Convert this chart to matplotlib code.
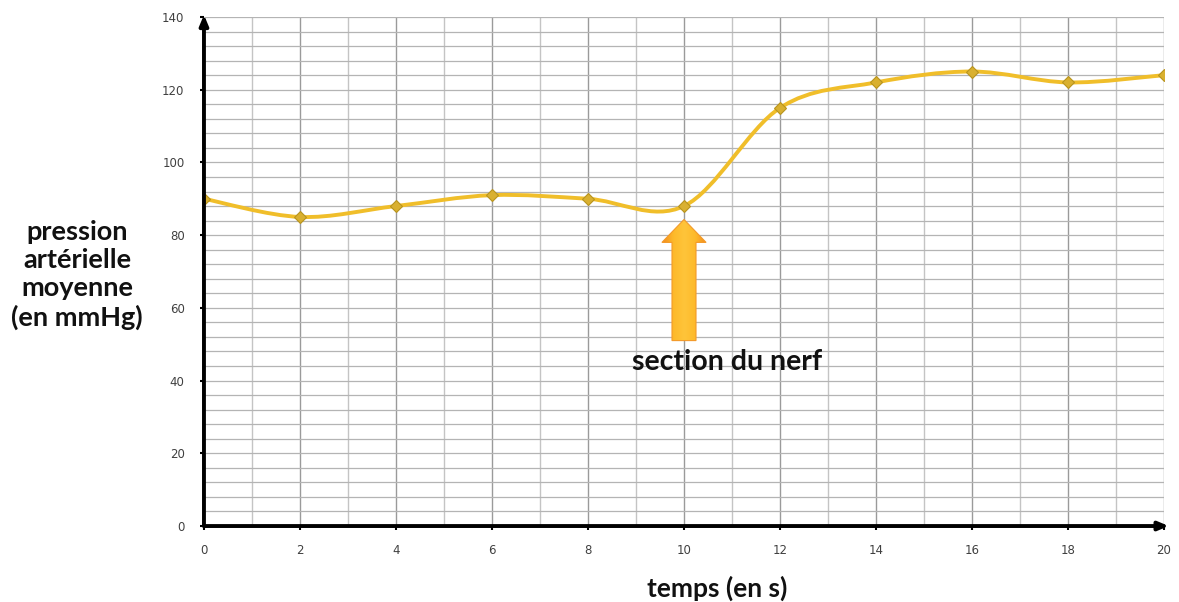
import numpy as np
import matplotlib
matplotlib.use("Agg")
import matplotlib.pyplot as plt
from matplotlib.path import Path
from matplotlib.patches import PathPatch, FancyArrow
from matplotlib.colors import LinearSegmentedColormap

# ---- data ----
temps = [0, 2, 4, 6, 8, 10, 12, 14, 16, 18, 20]
pression = [90, 85, 88, 91, 90, 88, 115, 122, 125, 122, 124]
x_ticks = list(range(0, 21, 2))
y_ticks = list(range(0, 141, 20))
ylabel_text = "pression\nartérielle\nmoyenne\n(en mmHg)"
xlabel_text = "temps (en s)"
annot_text = "section du nerf"
arrow_x = 10
arrow_tip = 84.3
arrow_base = 51

LINE_COLOR = "#F0BE2A"
MARKER_FACE = "#D9B030"
MARKER_EDGE = "#B8941E"

fig = plt.figure(figsize=(11.79, 6.02), dpi=100)
ax = fig.add_axes([0.173, 0.1262, 0.8143, 0.8456])

ax.set_xlim(0, 20)
ax.set_ylim(0, 140)

# grid
for xv in range(0, 21):
    col = "#9a9a9a" if xv % 2 == 0 else "#c4c4c4"
    ax.axvline(xv, color=col, lw=1.0, zorder=0)
for yv in range(0, 141, 4):
    ax.axhline(yv, color="#b4b4b4", lw=0.9, zorder=0)

# smooth (Excel-style bezier) curve through the data points
P = np.column_stack([temps, pression]).astype(float)
n = len(P)
verts = [P[0]]
codes = [Path.MOVETO]
for i in range(n - 1):
    p0 = P[i - 1] if i > 0 else P[i]
    p1 = P[i]
    p2 = P[i + 1]
    p3 = P[i + 2] if i + 2 < n else P[i + 1]
    c1 = p1 + (p2 - p0) / 6.0
    c2 = p2 - (p3 - p1) / 6.0
    verts += [c1, c2, p2]
    codes += [Path.CURVE4] * 3
path = Path(verts, codes)
ax.add_patch(PathPatch(path, facecolor="none", edgecolor=LINE_COLOR, lw=2.8,
                       zorder=3, capstyle="round"))
ax.plot(temps, pression, linestyle="none", marker="D", markersize=6,
        markerfacecolor=MARKER_FACE, markeredgecolor=MARKER_EDGE,
        markeredgewidth=0.8, zorder=4)

# arrow with gradient fill
arr = FancyArrow(arrow_x, arrow_base, 0, arrow_tip - arrow_base, width=0.5,
                 head_width=0.92, head_length=6.3, length_includes_head=True,
                 facecolor="none", edgecolor="#F39A2A", lw=0.8, zorder=5)
ax.add_patch(arr)
cmap = LinearSegmentedColormap.from_list("g", ["#F28A1E", "#FDB92A", "#FFC43A", "#FDB92A", "#F28A1E"])
grad = np.linspace(0, 1, 256).reshape(1, -1)
im = ax.imshow(grad, cmap=cmap, aspect="auto",
               extent=[arrow_x - 0.46, arrow_x + 0.46, arrow_base, arrow_tip],
               zorder=4.5)
im.set_clip_path(arr)
ax.set_xlim(0, 20)
ax.set_ylim(0, 140)

ax.text(727.5, 602 - 362, annot_text, fontsize=20.5, fontweight="bold",
        family="Lato", ha="center", va="center", color="#111111", zorder=6,
        transform=None)

# spines / axes arrows
for s in ["top", "right", "left", "bottom"]:
    ax.spines[s].set_visible(False)
ax.annotate("", xy=(0, 140.6), xytext=(0, 0), xycoords="data",
            arrowprops=dict(arrowstyle="-|>,head_length=0.6,head_width=0.25",
                            color="black", lw=2.8, shrinkA=0, shrinkB=0),
            annotation_clip=False, zorder=7)
ax.annotate("", xy=(20.1, 0), xytext=(0, 0), xycoords="data",
            arrowprops=dict(arrowstyle="-|>,head_length=0.6,head_width=0.25",
                            color="black", lw=2.8, shrinkA=0, shrinkB=0),
            annotation_clip=False, zorder=7)

ax.set_xticks(x_ticks)
ax.set_yticks(y_ticks)
ax.set_xticklabels([str(v) for v in x_ticks])
ax.set_yticklabels([str(v) for v in y_ticks])
ax.tick_params(axis="both", direction="out", length=3, width=1.5,
               labelsize=8.5, labelcolor="#404040", color="black")
ax.tick_params(axis="x", pad=10)
ax.tick_params(axis="y", pad=11)

fig.text(77 / 1179, 1 - 275 / 602, ylabel_text, fontsize=19.5, fontweight="bold",
         family="Lato", ha="center", va="center", linespacing=1.22, color="#111111")
fig.text(717.5 / 1179, 1 - 588 / 602, xlabel_text, fontsize=19, fontweight="bold",
         family="Lato", ha="center", va="center", color="#111111")

fig.savefig("out.png", dpi=100)
